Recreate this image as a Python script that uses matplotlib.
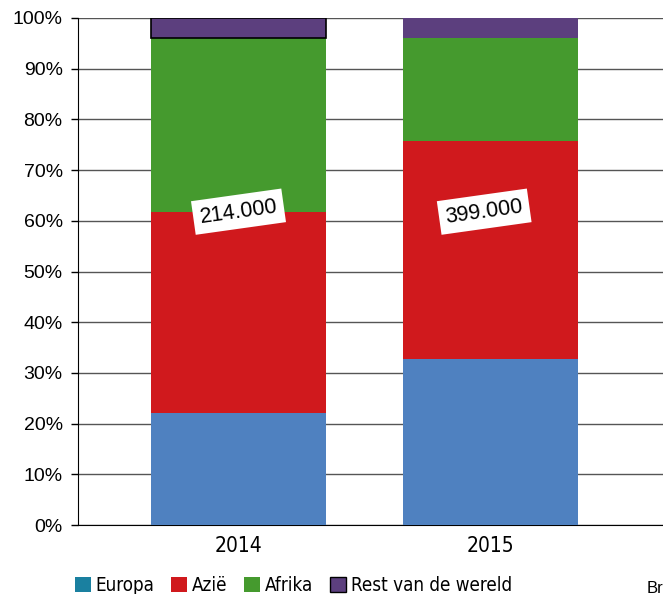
import numpy as np
import matplotlib.pyplot as plt
from matplotlib.patches import Patch
from matplotlib.font_manager import FontProperties

# Data (shares in %)
years = ['2014', '2015']
europa = [22.1, 32.7]
azie = [39.6, 43.0]
afrika = [34.3, 20.3]
rest = [4.0, 4.0]
totals = ['214.000', '399.000']

series_names = ['Europa', 'Azië', 'Afrika', 'Rest van de wereld']
bar_colors = ['#4F81C0', '#D0191D', '#459A2E', '#5C3F7E']
legend_colors = ['#1A80A0', '#D0191D', '#459A2E', '#5C3F7E']

plt.rcParams['font.family'] = ['Liberation Sans', 'DejaVu Sans']
narrow = FontProperties(family='DejaVu Sans', stretch='condensed', size=13.5)

fig = plt.figure(figsize=(6.63, 5.94), dpi=100)
ax = fig.add_axes([78 / 663, 1 - 525 / 594, 1 - 78 / 663, (525 - 18) / 594])

x = np.arange(len(years))
width = 0.694
bottom = np.zeros(len(years))
for i, vals in enumerate([europa, azie, afrika, rest]):
    ax.bar(x, vals, width, bottom=bottom, color=bar_colors[i], zorder=3)
    bottom += np.array(vals)
# black outline on the 2014 rest segment
ax.bar(x[0], rest[0], width, bottom=100 - rest[0], facecolor='none',
       edgecolor='black', linewidth=1.2, zorder=4)

for i, lbl in enumerate(totals):
    ax.text(x[i] - 0.025 * i, 61.8, lbl, ha='center', va='center', rotation=8,
            fontsize=15.5, zorder=5,
            bbox=dict(boxstyle='square,pad=0.3', facecolor='white', edgecolor='none'))

ax.set_xlim((78 - 238.5) / 252, (663 - 238.5) / 252)
ax.set_ylim(0, 100)
ax.set_yticks(np.arange(0, 101, 10))
ax.set_yticklabels([f'{v}%' for v in range(0, 101, 10)], fontsize=14)
ax.set_xticks(x)
ax.set_xticklabels(years, fontproperties=FontProperties(family='DejaVu Sans', stretch='condensed', size=15))
ax.tick_params(axis='x', length=0, pad=8)
ax.tick_params(axis='y', length=5, width=1, direction='out', pad=6)
ax.yaxis.grid(True, color='#555555', linewidth=1, zorder=0)
ax.set_axisbelow(True)
for s in ['top', 'right']:
    ax.spines[s].set_visible(False)
ax.spines['left'].set_color('black')
ax.spines['bottom'].set_color('black')

handles = [Patch(facecolor=legend_colors[i], edgecolor='black' if i == 3 else legend_colors[i],
                 linewidth=1 if i == 3 else 0) for i in range(4)]
fig.legend(handles, series_names, loc='lower left', bbox_to_anchor=(58 / 663, -0.03),
           ncol=4, frameon=False, prop=narrow,
           handlelength=0.85, handleheight=0.85, handletextpad=0.25, columnspacing=0.9)

fig.text(647 / 663, -0.004, 'Bron', fontsize=12, ha='left', va='bottom')

fig.savefig('out.png', dpi=100)
